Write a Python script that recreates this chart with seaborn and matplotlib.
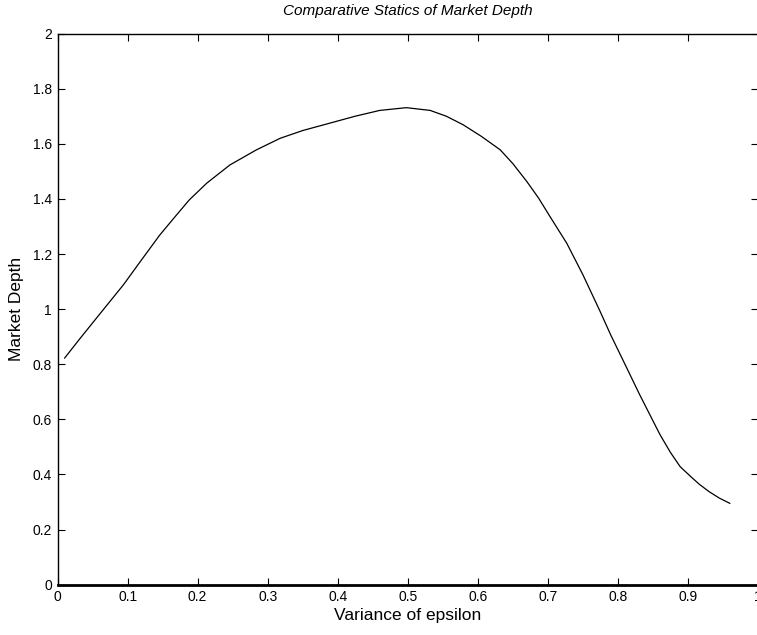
import numpy as np
import seaborn as sns
import matplotlib.pyplot as plt

# values
variance = [0.010, 0.032, 0.065, 0.094, 0.120, 0.146, 0.170, 0.188, 0.213, 0.246,
            0.284, 0.318, 0.350, 0.389, 0.425, 0.460, 0.498, 0.532, 0.555, 0.579,
            0.605, 0.632, 0.650, 0.670, 0.687, 0.703, 0.727, 0.750, 0.774, 0.790,
            0.812, 0.831, 0.845, 0.860, 0.875, 0.889, 0.905, 0.916, 0.930, 0.945,
            0.960]
depth = [0.822, 0.893, 0.997, 1.088, 1.179, 1.269, 1.342, 1.396, 1.457, 1.523,
         1.578, 1.620, 1.648, 1.675, 1.700, 1.721, 1.731, 1.721, 1.700, 1.669,
         1.627, 1.578, 1.528, 1.463, 1.402, 1.336, 1.239, 1.125, 0.995, 0.905,
         0.790, 0.690, 0.620, 0.545, 0.480, 0.428, 0.390, 0.365, 0.338, 0.314,
         0.295]
x_ticks = [0, 0.1, 0.2, 0.3, 0.4, 0.5, 0.6, 0.7, 0.8, 0.9, 1]
y_ticks = [0, 0.2, 0.4, 0.6, 0.8, 1, 1.2, 1.4, 1.6, 1.8, 2]

sns.set_style("ticks")
plt.rcParams['font.family'] = ['Liberation Sans', 'DejaVu Sans']
plt.rcParams['text.color'] = 'black'
plt.rcParams['axes.labelcolor'] = 'black'

fig = plt.figure(figsize=(7.57, 6.35), dpi=100)
ax = fig.add_axes([0.076, 0.0792, 0.9253, 0.868])

sns.lineplot(x=variance, y=depth, color='black', linewidth=0.9, ax=ax)

ax.set_xlim(0, 1)
ax.set_ylim(0, 2)
ax.set_xticks(x_ticks)
ax.set_xticklabels([f"{t:g}" for t in x_ticks])
ax.set_yticks(y_ticks)
ax.set_yticklabels([f"{t:g}" for t in y_ticks])
ax.tick_params(direction='in', length=5, width=0.8, labelsize=10,
               top=True, right=True, colors='black', pad=4)
for s in ['left', 'top', 'right']:
    ax.spines[s].set_linewidth(1.0)
    ax.spines[s].set_color('black')
ax.spines['bottom'].set_linewidth(2.0)
ax.spines['bottom'].set_color('black')

ax.set_title('Comparative Statics of Market Depth', fontsize=11, style='italic',
             pad=13, color='black')
ax.set_xlabel('Variance of epsilon', fontsize=12.5, labelpad=3)
ax.set_ylabel('Market Depth', fontsize=12.5, labelpad=6)

fig.savefig('out.png', dpi=100)
